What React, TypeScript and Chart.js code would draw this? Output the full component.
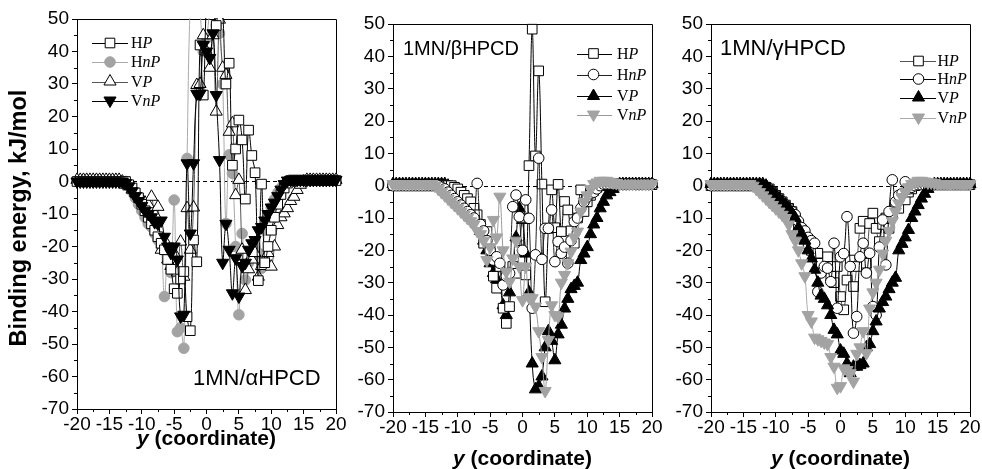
import React, { useEffect, useRef } from "react";
import { Chart, registerables } from "chart.js";

Chart.register(...registerables);

// ---------- data ----------
const X = [
  -20, -19.5, -19, -18.5, -18, -17.5, -17, -16.5, -16, -15.5,
  -15, -14.5, -14, -13.5, -13, -12.5, -12, -11.5, -11, -10.5,
  -10, -9.5, -9, -8.5, -8, -7.5, -7, -6.5, -6, -5.5,
  -5, -4.5, -4, -3.5, -3, -2.5, -2, -1.5, -1, -0.5,
  0, 0.5, 1, 1.5, 2, 2.5, 3, 3.5, 4, 4.5,
  5, 5.5, 6, 6.5, 7, 7.5, 8, 8.5, 9, 9.5,
  10, 10.5, 11, 11.5, 12, 12.5, 13, 13.5, 14, 14.5,
  15, 15.5, 16, 16.5, 17, 17.5, 18, 18.5, 19, 19.5,
  20,
];

const X_TICKS = [-20, -15, -10, -5, 0, 5, 10, 15, 20];
const Y_TICKS = [50, 40, 30, 20, 10, 0, -10, -20, -30, -40, -50, -60, -70];

// Panel 1: 1MN/alphaHPCD
const A_HP = [
  0, 0, 0, 0, 0, 0, 0, 0, 0, 0,
  0, 0, 0, 0, 0, 0, -1, -2, -3.5, -5,
  -7, -9, -11, -13, -15, -17, -19, -21, -24, -27,
  -33, -34.4, -30, -27.7, -41.6, -45.9, -18, -24.7, 42, 26.6,
  55, 62, 55, 48, 60, 52, 30, 36.4, 5, 10,
  18.9, 12.8, -5.4, 15.8, 8, 2.7, -30.5, -0.8, -25, -20,
  -15, -11, -7, -4, -2, -0.5, 0.3, 0.3, 0.3, 0.3,
  0.3, 0.3, 0.3, 0.3, 0.3, 0.3, 0.3, 0.3, 0.3, 0.3,
  0.3,
];
const A_HnP = [
  0, 0, 0, 0, 0, 0, 0, 0, 0, 0,
  0, 0, 0, 0, 0, 0, -1, -3, -5, -7,
  -9, -11, -13, -14, -16, -18, -20, -35.4, -24, -28,
  -5.7, -46.2, -45, -51.3, 7.1, 55, 62, 58, 52, 40,
  44, 52, 57, 48, 45.6, 30, -12.9, 8.2, 2.5, -20,
  -41, -16, -30.3, -25, -22, -20, -22, -26.7, -15, -11,
  -8, -5.5, -3.5, -2, -1, 0, 0.5, 0.5, 0.5, 0.5,
  0.5, 0.5, 0.5, 0.5, 0.5, 0.5, 0.5, 0.5, 0.5, 0.5,
  0.5,
];
const A_VP = [
  0.5, 0.5, 0.5, 0.5, 0.5, 0.5, 0.5, 0.5, 0.5, 0.5,
  0.5, 0.5, 0.5, 0.5, 0, -1, -1.5, -2.5, -3.5, -4.5,
  -5.5, -6.5, -7, -4.7, -10, -7.8, -21, -18, -24, -26,
  -22, -28, -18.5, -29.3, -8.2, -21, -8, 29.7, 30, 45,
  40, 35, 45, 21.5, 49.8, 35, 32.8, 15.3, 17.9, -4.2,
  0.5, -21, -33.4, -27, -24, -22, -29.3, -26, -24, -22,
  -26.2, -20, -13.4, -11, -9.8, -8.2, -6, -4.7, -2.6, -1,
  0, 0.5, 0.5, 0.5, 0.5, 0.5, 0.5, 0.5, 0.5, 0.5,
  0.5,
];
const A_VnP = [
  0, 0, 0, 0, 0, 0, 0, 0, 0, 0,
  0, 0, 0, 0, 0, -0.5, -1.5, -3, -4.5, -6,
  -7.5, -9, -10, -11, -12.5, -13, -12, -17, -20, -22,
  -20, -24, -41.5, -41, 5.6, -16, 5.6, 27, 27, 42,
  40, 38, 45.6, 26.6, 6.6, -25, -13, -21, -34.4, -23.6,
  -35.4, -26, -25, -21, -19, -18, -15, -14, -12, -10,
  -8, -6.5, -4.5, -2.5, -0.8, 0.3, 0.5, 0.5, 0.5, 0.5,
  0.5, 0.5, 0.5, 0.5, 0.5, 0.5, 0.5, 0.5, 0.5, 0.5,
  0.5,
];

// Panel 2: 1MN/betaHPCD
const B_HP = [
  0, 0, 0, 0, 0, 0, 0, 0, 0, 0,
  0, 0, 0, 0, 0, 0, 0, 0, 0, -0.5,
  -1, -2, -3, -4, -5, -7, -9, -12, -17.8, -14.2,
  -20, -28, -31.7, -25, -37.9, -42.6, -37.4, -25, -27.1, -20,
  -10, -27.6, 6.2, 48.4, 9.2, 35.5, 0.5, -35.9, -13.2, -1.3,
  -13, 0.4, -14.2, -4.9, -7.5, -14, -17.8, -10, -1.3, -8,
  -5, -3, -1.5, -0.5, 0, 0.3, 0.3, 0.3, 0.3, 0.3,
  0.3, 0.3, 0.3, 0.3, 0.3, 0.3, 0.3, 0.3, 0.3, 0.3,
  0.3,
];
const B_HnP = [
  0, 0, 0, 0, 0, 0, 0, 0, 0, 0,
  0, 0, 0, 0, 0, -0.5, -1, -2, -3, -4,
  -5, -6, -7, -8, -9, -10, 0.7, -12, -14, -17,
  -20, -23, -22, -24, -30.7, -28, -27.1, -6.5, -2.9, -9.6,
  -20, -4.4, -10.1, -37.9, -21.4, 8.5, -22.8, -13.2, -13.2, -7.5,
  -23.5, -17.3, -20.9, -19, -24, -17, -11.1, -10, -7, -5,
  -3.5, -2.5, -2, -1, 0, 0.5, 0.5, 0.5, 0.5, 0.5,
  0.5, 0.5, 0.5, 0.5, 0.5, 0.5, 0.5, 0.5, 0.5, 0.5,
  0.5,
];
const B_VP = [
  0.5, 0.5, 0.5, 0.5, 0.5, 0.5, 0.5, 0.5, 0.5, 0.5,
  0.5, 0.5, 0.5, 0.5, 0.5, 0.5, 0.5, 0, -1, -2,
  -3, -4, -5, -6, -7.5, -9, -11, -14, -17, -20,
  -24, -27, -29, -31, -37, -40, -33, -25, -16, -7,
  -10.6, -21, -33, -55, -63, -62, -59, -50, -45, -48,
  -54, -46, -43, -38, -35, -32, -31, -30, -23, -21,
  -19, -15, -12, -10, -7, -5, -3, -2, -1, 0,
  0.5, 0.5, 0.5, 0.5, 0.5, 0.5, 0.5, 0.5, 0.5, 0.5,
  0.5,
];
const B_VnP = [
  0.5, 0.5, 0.5, 0.5, 0.5, 0.5, 0.5, 0.5, 0.5, 0.5,
  0.5, 0.5, 0.5, 0, -1, -2, -3, -4, -5, -6,
  -7, -8, -9, -10, -11, -12, -14, -15, -17, -23,
  -19, -10.6, -16, -3.4, -20, -26.6, -29.7, -22.5, -17, -25,
  -35.4, -25, -34.5, -34.8, -37.4, -45, -53, -63.5, -47.7, -37,
  -40, -40.5, -30, -27.6, -24, -20.4, -16, -14.2, -8, -5,
  -3, -1, 0.5, 1, 1.5, 1.5, 1.5, 1.2, 1, 0.8,
  0.5, 0.5, 0.5, 0.5, 0.5, 0.5, 0.5, 0.5, 0.5, 0.5,
  0.5,
];

// Panel 3: 1MN/gammaHPCD
const G_HP = [
  0, 0, 0, 0, 0, 0, 0, 0, 0, 0,
  0, 0, 0, 0, 0, 0, 0, -0.5, -1, -2,
  -3, -4, -5, -6, -7, -8, -10, -12, -14, -16,
  -18, -20, -22, -20.9, -24, -26, -22, -28, -30, -25,
  -34.3, -38.4, -29.2, -23, -31.2, -25, -13.2, -11, -24, -11.7,
  -8.5, -13.2, -17.3, -12, -10, -13.2, -9, -6, -7, -4,
  -4.4, -2, -1, 0, 0.3, 0.3, 0.3, 0.3, 0.3, 0.3,
  0.3, 0.3, 0.3, 0.3, 0.3, 0.3, 0.3, 0.3, 0.3, 0.3,
  0.3,
];
const G_HnP = [
  0, 0, 0, 0, 0, 0, 0, 0, 0, 0,
  0, 0, 0, 0, 0, 0, 0, -0.5, -1, -2,
  -3, -4, -5, -6, -7, -8, -9, -11, -13, -14,
  -16, -17, -17.8, -32.8, -27, -25, -25.5, -29.7, -17.8, -37.9,
  -22, -21, -9.6, -25, -45.6, -40.5, -22, -17.8, -27, -20.9,
  -37.4, -40, -19, -10.6, -24.5, -8, 1.8, -5, -3, -2.4,
  1.2, -1, -0.5, 0, 0.3, 0.3, 0.3, 0.3, 0.3, 0.3,
  0.3, 0.3, 0.3, 0.3, 0.3, 0.3, 0.3, 0.3, 0.3, 0.3,
  0.3,
];
const G_VP = [
  0.5, 0.5, 0.5, 0.5, 0.5, 0.5, 0.5, 0.5, 0.5, 0.5,
  0.5, 0.5, 0.5, 0.5, 0.5, 0.5, 0.5, 0, -1, -2,
  -3, -4, -5, -6, -7, -8.5, -10, -13, -15, -17,
  -20, -22.5, -26, -30, -34, -35, -37, -40, -44.6, -46,
  -51, -52, -55, -58, -56, -56, -55.5, -55, -50, -49,
  -45, -42, -38, -36, -34.3, -32, -30, -28.5, -20, -18,
  -16, -13.7, -10, -8, -6, -4, -2.5, -1, 0, 0.5,
  0.5, 0.5, 0.5, 0.5, 0.5, 0.5, 0.5, 0.5, 0.5, 0.5,
  0.5,
];
const G_VnP = [
  0.5, 0.5, 0.5, 0.5, 0.5, 0.5, 0.5, 0.5, 0.5, 0.5,
  0.5, 0.5, 0.5, 0, -1, -2, -3, -4, -5, -6,
  -7, -8, -9, -10, -12, -15, -17, -20, -24, -28,
  -40, -42, -47, -47.5, -48, -48.5, -49, -53, -56, -62.5,
  -62, -56.5, -57, -58, -60.6, -52, -50, -45, -51.8, -38,
  -33, -30, -26, -21, -17, -14, -11, -8, -5.5, -3.5,
  -2, -0.5, 0.5, 1, 1.5, 1.5, 1.3, 1, 1, 0.8,
  0.5, 0.5, 0.5, 0.5, 0.5, 0.5, 0.5, 0.5, 0.5, 0.5,
  0.5,
];

// ---------- styling ----------
const SANS = "'Liberation Sans', Arial, Helvetica, sans-serif";
const SERIF = "'Liberation Serif', 'Times New Roman', serif";
const GRAY = "#a3a3a3";

type Marker = "rect" | "circle" | "triangle";
type SeriesCfg = {
  parts: [string, boolean][];
  ys: number[];
  marker: Marker;
  down?: boolean;
  fill: string;
  stroke: string;
  line: string;
};
type PanelCfg = {
  left: number;
  width: number;
  padTop: number;
  padRight: number;
  xAxisH: number;
  titleBase: number;
  yTitle: boolean;
  legend: { x1: number; xm: number; x2: number; xt: number; ys: number[] };
  annot: { text: string; x: number; y: number; size: number };
  series: SeriesCfg[]; // index 0 drawn on top
  legendOrder: number[];
};

const HP: [string, boolean][] = [["H", false], ["P", true]];
const HnP: [string, boolean][] = [["H", false], ["nP", true]];
const VP: [string, boolean][] = [["V", false], ["P", true]];
const VnP: [string, boolean][] = [["V", false], ["nP", true]];

const RADIUS: Record<Marker, number> = { rect: 6.8, circle: 5.3, triangle: 7 };

const PANELS: PanelCfg[] = [
  {
    left: 0, width: 350, padTop: 19, padRight: 14, xAxisH: 60, titleBase: 445, yTitle: true,
    legend: { x1: 92, xm: 110, x2: 128, xt: 131, ys: [43, 62, 81.5, 100.5] },
    annot: { text: "1MN/\u03b1HPCD", x: 193, y: 379, size: 22 },
    series: [
      { parts: VnP, ys: A_VnP, marker: "triangle", down: true, fill: "#000", stroke: "#000", line: "#000" },
      { parts: HP, ys: A_HP, marker: "rect", fill: "#fff", stroke: "#000", line: "#000" },
      { parts: VP, ys: A_VP, marker: "triangle", fill: "#fff", stroke: "#000", line: "#555" },
      { parts: HnP, ys: A_HnP, marker: "circle", fill: GRAY, stroke: GRAY, line: "#aaa" },
    ],
    legendOrder: [1, 3, 2, 0],
  },
  {
    left: 316, width: 350, padTop: 24, padRight: 14, xAxisH: 57, titleBase: 465, yTitle: false,
    legend: { x1: 577, xm: 593.5, x2: 612, xt: 617, ys: [53.5, 74.5, 96, 114.5] },
    annot: { text: "1MN/\u03b2HPCD", x: 403, y: 49, size: 20 },
    series: [
      { parts: VnP, ys: B_VnP, marker: "triangle", down: true, fill: GRAY, stroke: GRAY, line: "#999" },
      { parts: HnP, ys: B_HnP, marker: "circle", fill: "#fff", stroke: "#000", line: "#222" },
      { parts: HP, ys: B_HP, marker: "rect", fill: "#fff", stroke: "#000", line: "#000" },
      { parts: VP, ys: B_VP, marker: "triangle", fill: "#000", stroke: "#000", line: "#000" },
    ],
    legendOrder: [2, 1, 3, 0],
  },
  {
    left: 634, width: 348, padTop: 24, padRight: 12, xAxisH: 57, titleBase: 465, yTitle: false,
    legend: { x1: 900, xm: 918.5, x2: 936, xt: 937.5, ys: [61, 79, 97.5, 117.5] },
    annot: { text: "1MN/\u03b3HPCD", x: 720, y: 49, size: 22 },
    series: [
      { parts: VnP, ys: G_VnP, marker: "triangle", down: true, fill: GRAY, stroke: GRAY, line: "#aaa" },
      { parts: VP, ys: G_VP, marker: "triangle", fill: "#000", stroke: "#000", line: "#000" },
      { parts: HnP, ys: G_HnP, marker: "circle", fill: "#fff", stroke: "#000", line: "#000" },
      { parts: HP, ys: G_HP, marker: "rect", fill: "#fff", stroke: "#000", line: "#555" },
    ],
    legendOrder: [3, 2, 1, 0],
  },
];

function drawMarker(ctx: CanvasRenderingContext2D, s: SeriesCfg, x: number, y: number) {
  const r = RADIUS[s.marker];
  ctx.beginPath();
  if (s.marker === "circle") {
    ctx.arc(x, y, r, 0, Math.PI * 2);
  } else if (s.marker === "rect") {
    const h = r * Math.SQRT1_2;
    ctx.rect(x - h, y - h, 2 * h, 2 * h);
  } else {
    const d = s.down ? -1 : 1;
    ctx.moveTo(x, y - d * r);
    ctx.lineTo(x + 0.866 * r, y + d * 0.5 * r);
    ctx.lineTo(x - 0.866 * r, y + d * 0.5 * r);
    ctx.closePath();
  }
  ctx.fillStyle = s.fill;
  ctx.fill();
  ctx.lineWidth = 1;
  ctx.strokeStyle = s.stroke;
  ctx.stroke();
}

function makePlugin(p: PanelCfg) {
  return {
    id: "deco",
    beforeDatasetsDraw(chart: any) {
      const { ctx, chartArea: a, scales } = chart;
      const y0 = Math.round(scales.y.getPixelForValue(0)) + 0.5;
      ctx.save();
      ctx.strokeStyle = "#000";
      ctx.lineWidth = 1;
      ctx.setLineDash([4, 3]);
      ctx.beginPath();
      ctx.moveTo(a.left, y0);
      ctx.lineTo(a.right, y0);
      ctx.stroke();
      ctx.setLineDash([]);
      ctx.beginPath();
      ctx.moveTo(a.left, Math.round(a.top) + 0.5);
      ctx.lineTo(Math.round(a.right) + 0.5, Math.round(a.top) + 0.5);
      ctx.lineTo(Math.round(a.right) + 0.5, a.bottom);
      ctx.stroke();
      ctx.restore();
    },
    afterDraw(chart: any) {
      const { ctx, chartArea: a, scales } = chart;
      const off = p.left;
      ctx.save();
      // minor ticks
      ctx.strokeStyle = "#000";
      ctx.lineWidth = 1;
      ctx.beginPath();
      for (let k = 0; k < Y_TICKS.length - 1; k++) {
        const v = (Y_TICKS[k] + Y_TICKS[k + 1]) / 2;
        const py = Math.round(scales.y.getPixelForValue(v)) + 0.5;
        ctx.moveTo(a.left - 3, py);
        ctx.lineTo(a.left, py);
      }
      for (let k = 0; k < X_TICKS.length - 1; k++) {
        const v = (X_TICKS[k] + X_TICKS[k + 1]) / 2;
        const px = Math.round(scales.x.getPixelForValue(v)) + 0.5;
        ctx.moveTo(px, a.bottom);
        ctx.lineTo(px, a.bottom + 3);
      }
      ctx.stroke();

      // legend
      const L = p.legend;
      p.legendOrder.forEach((si, row) => {
        const s = p.series[si];
        const y = L.ys[row];
        ctx.beginPath();
        ctx.strokeStyle = s.line;
        ctx.lineWidth = 1;
        ctx.moveTo(L.x1 - off, Math.round(y) + 0.5);
        ctx.lineTo(L.x2 - off, Math.round(y) + 0.5);
        ctx.stroke();
        drawMarker(ctx, s, L.xm - off, y);
        let tx = L.xt - off;
        ctx.fillStyle = "#000";
        ctx.textBaseline = "middle";
        ctx.textAlign = "left";
        for (const [t, it] of s.parts) {
          ctx.font = `${it ? "italic " : ""}16px ${SERIF}`;
          ctx.fillText(t, tx, y + 1);
          tx += ctx.measureText(t).width;
        }
      });

      // annotation
      ctx.fillStyle = "#000";
      ctx.font = `${p.annot.size}px ${SANS}`;
      ctx.textAlign = "left";
      ctx.textBaseline = "middle";
      ctx.fillText(p.annot.text, p.annot.x - off, p.annot.y);

      // x title
      const cx = (a.left + a.right) / 2;
      const f1 = `italic bold 21px ${SANS}`;
      const f2 = `bold 21px ${SANS}`;
      ctx.font = f1;
      const w1 = ctx.measureText("y").width;
      ctx.font = f2;
      const w2 = ctx.measureText(" (coordinate)").width;
      const sx = cx - (w1 + w2) / 2;
      ctx.textBaseline = "alphabetic";
      ctx.font = f1;
      ctx.fillText("y", sx, p.titleBase);
      ctx.font = f2;
      ctx.fillText(" (coordinate)", sx + w1, p.titleBase);

      // y title
      if (p.yTitle) {
        ctx.translate(20, (a.top + a.bottom) / 2 + 4);
        ctx.rotate(-Math.PI / 2);
        ctx.font = `bold 23.5px ${SANS}`;
        ctx.textAlign = "center";
        ctx.textBaseline = "middle";
        ctx.fillText("Binding energy, kJ/mol", 0, 0);
      }
      ctx.restore();
    },
  };
}

function Panel({ p }: { p: PanelCfg }) {
  const ref = useRef<HTMLCanvasElement | null>(null);
  useEffect(() => {
    if (!ref.current) return;
    const datasets = p.series.map((s) => ({
      label: s.parts.map((q) => q[0]).join(""),
      data: X.map((x, i) => ({ x, y: s.ys[i] })),
      borderColor: s.line,
      borderWidth: 1,
      tension: 0.4,
      fill: false,
      pointStyle: s.marker,
      pointRotation: s.down ? 180 : 0,
      pointRadius: RADIUS[s.marker],
      pointHoverRadius: RADIUS[s.marker],
      pointBackgroundColor: s.fill,
      pointBorderColor: s.stroke,
      pointBorderWidth: 1,
      clip: { left: 10, right: 10, top: 1, bottom: 10 },
    }));
    const tickFont = { family: SANS, size: 19 };
    const chart = new Chart(ref.current, {
      type: "line",
      data: { datasets } as any,
      options: {
        animation: false,
        responsive: false,
        events: [],
        layout: { padding: { left: 0, right: p.padRight, top: p.padTop, bottom: 0 } },
        plugins: { legend: { display: false }, tooltip: { enabled: false } },
        scales: {
          x: {
            type: "linear",
            min: -20,
            max: 20,
            afterBuildTicks: (s: any) => {
              s.ticks = X_TICKS.map((v) => ({ value: v }));
            },
            afterFit: (s: any) => {
              s.height = p.xAxisH;
            },
            ticks: {
              font: tickFont,
              color: "#000",
              maxRotation: 0,
              minRotation: 0,
              autoSkip: false,
              padding: -1,
              callback: (v: any) => String(v),
            },
            grid: { drawOnChartArea: false, drawTicks: true, tickLength: 5, color: "#000", lineWidth: 1 },
            border: { display: true, color: "#000", width: 1 },
          },
          y: {
            type: "linear",
            min: -70,
            max: 50,
            afterBuildTicks: (s: any) => {
              s.ticks = Y_TICKS.map((v) => ({ value: v }));
            },
            afterFit: (s: any) => {
              s.width = 77;
            },
            ticks: {
              font: tickFont,
              color: "#000",
              autoSkip: false,
              padding: 3,
              callback: (v: any) => String(v),
            },
            grid: { drawOnChartArea: false, drawTicks: true, tickLength: 5, color: "#000", lineWidth: 1 },
            border: { display: true, color: "#000", width: 1 },
          },
        },
      } as any,
      plugins: [makePlugin(p) as any],
    });
    return () => chart.destroy();
  }, [p]);
  return (
    <canvas
      ref={ref}
      width={p.width}
      height={469}
      style={{ position: "absolute", left: p.left, top: 0, width: p.width, height: 469 }}
    />
  );
}

export default function App() {
  return (
    <div style={{ position: "fixed", left: 0, top: 0, width: 982, height: 469, background: "#fff", overflow: "hidden" }}>
      {PANELS.map((p, i) => (
        <Panel key={i} p={p} />
      ))}
    </div>
  );
}
